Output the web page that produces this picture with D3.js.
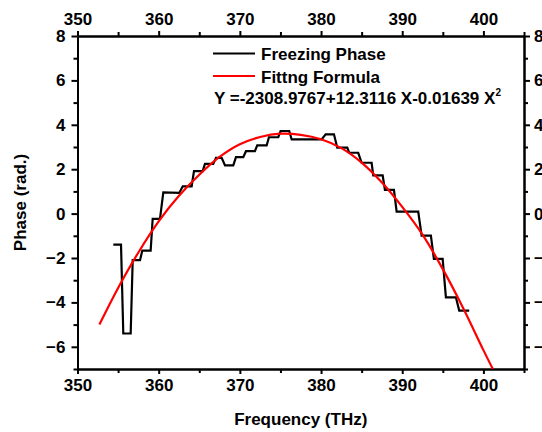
<!DOCTYPE html>
<html>
<head>
<meta charset="utf-8">
<script src="https://cdn.jsdelivr.net/npm/d3@7"></script>
<style>
  body { margin: 0; background: #fff; }
  svg text { font-family: Arial, "Liberation Sans", sans-serif; font-weight: bold; }
</style>
</head>
<body>
<div></div>
<script>
// dimensions
const WIDTH = 542;
const HEIGHT = 432;
const LEFT = 77.5, RIGHT = 524, TOP = 36, BOTTOM = 369;

// freezing phase (step line)
const freqX = [354.41, 355.36, 355.64, 356.55, 356.80, 357.70, 357.98, 359.01, 359.26, 360.16,
  360.57, 362.54, 362.96, 364.06, 364.35, 365.42, 365.70, 366.72, 367.06, 367.76,
  368.17, 369.19, 369.52, 370.42, 370.75, 371.85, 372.14, 373.30, 373.58, 374.73,
  375.02, 376.08, 376.38, 380.07, 380.57, 381.59, 382.00, 383.23, 383.47, 384.58,
  385.00, 386.23, 386.43, 387.59, 387.87, 388.98, 389.31, 391.97, 392.39, 393.53,
  393.90, 394.98, 395.38, 396.61, 397.02, 398.25];
const phaseY = [-1.4, -1.4, -5.4, -5.4, -2.1, -2.1, -1.67, -1.67, -0.24, -0.24,
  0.96, 0.93, 1.23, 1.23, 1.91, 1.91, 2.24, 2.24, 2.51, 2.51,
  2.17, 2.17, 2.54, 2.54, 2.81, 2.81, 3.07, 3.07, 3.44, 3.44,
  3.72, 3.72, 3.34, 3.34, 3.57, 3.57, 2.97, 2.97, 2.74, 2.74,
  2.29, 2.29, 1.72, 1.72, 1.07, 1.07, 0.09, 0.09, -0.99, -0.99,
  -2.04, -2.04, -3.77, -3.77, -4.37, -4.37];

// fitted curve
const fitX = [352.7, 355, 357.5, 360, 362.5, 365, 367.5, 370, 372.5, 375, 377.5,
  380, 382.5, 385, 387.5, 390, 392.5, 395, 397.5, 400, 401.3];
const fitY = [-5.0, -3.35, -1.75, -0.35, 0.8, 1.75, 2.55, 3.12, 3.45, 3.6, 3.55,
  3.35, 2.95, 2.3, 1.4, 0.3, -0.95, -2.5, -4.25, -6.15, -7.1];

const xMajor = [350, 360, 370, 380, 390, 400];
const xMinor = [355, 365, 375, 385, 395, 405];
const yMajor = [-6, -4, -2, 0, 2, 4, 6, 8];
const yMinor = [-7, -5, -3, -1, 1, 3, 5, 7];

const svg = d3.select("div").append("svg")
  .attr("width", WIDTH)
  .attr("height", HEIGHT);

const x = d3.scaleLinear().domain([350, 405]).range([LEFT, RIGHT]);
const y = d3.scaleLinear().domain([-7, 8]).range([BOTTOM, TOP]);

function styleAxis(g) {
  g.select(".domain").attr("stroke", "#000").attr("stroke-width", 2);
  g.selectAll(".tick line").attr("stroke", "#000").attr("stroke-width", 2);
  g.selectAll(".tick text").attr("font-size", 17).attr("fill", "#000");
}

// bottom
svg.append("g").attr("transform", `translate(0,${BOTTOM})`)
  .call(d3.axisBottom(x).tickValues(xMinor).tickSize(4).tickFormat("").tickSizeOuter(0))
  .call(styleAxis);
svg.append("g").attr("transform", `translate(0,${BOTTOM})`)
  .call(d3.axisBottom(x).tickValues(xMajor).tickSize(5).tickPadding(5).tickSizeOuter(0))
  .call(styleAxis);
// top
svg.append("g").attr("transform", `translate(0,${TOP})`)
  .call(d3.axisTop(x).tickValues(xMinor).tickSize(4).tickFormat("").tickSizeOuter(0))
  .call(styleAxis);
svg.append("g").attr("transform", `translate(0,${TOP})`)
  .call(d3.axisTop(x).tickValues(xMajor).tickSize(5).tickPadding(6).tickSizeOuter(0))
  .call(styleAxis);
// left
svg.append("g").attr("transform", `translate(${LEFT},0)`)
  .call(d3.axisLeft(y).tickValues(yMinor).tickSize(4).tickFormat("").tickSizeOuter(0))
  .call(styleAxis);
svg.append("g").attr("transform", `translate(${LEFT},0)`)
  .call(d3.axisLeft(y).tickValues(yMajor).tickSize(6).tickPadding(6).tickSizeOuter(0))
  .call(styleAxis);
// right
svg.append("g").attr("transform", `translate(${RIGHT},0)`)
  .call(d3.axisRight(y).tickValues(yMinor).tickSize(4).tickFormat("").tickSizeOuter(0))
  .call(styleAxis);
svg.append("g").attr("transform", `translate(${RIGHT},0)`)
  .call(d3.axisRight(y).tickValues(yMajor).tickSize(6).tickPadding(4).tickSizeOuter(0))
  .call(styleAxis);

// clip
svg.append("clipPath").attr("id", "clip")
  .append("rect").attr("x", LEFT).attr("y", TOP)
  .attr("width", RIGHT - LEFT).attr("height", BOTTOM - TOP);

const plot = svg.append("g").attr("clip-path", "url(#clip)");

const phaseData = freqX.map((d, i) => [d, phaseY[i]]);
const fitData = fitX.map((d, i) => [d, fitY[i]]);

plot.append("path")
  .datum(phaseData)
  .attr("fill", "none")
  .attr("stroke", "#000")
  .attr("stroke-width", 2.2)
  .attr("d", d3.line().x(d => x(d[0])).y(d => y(d[1])));

plot.append("path")
  .datum(fitData)
  .attr("fill", "none")
  .attr("stroke", "#ff0000")
  .attr("stroke-width", 2.2)
  .attr("d", d3.line().curve(d3.curveCatmullRom).x(d => x(d[0])).y(d => y(d[1])));

// legend
const legend = svg.append("g");
legend.append("line").attr("x1", 213).attr("x2", 255).attr("y1", 53.5).attr("y2", 53.5)
  .attr("stroke", "#000").attr("stroke-width", 2);
legend.append("text").attr("x", 261).attr("y", 59.5).attr("font-size", 17).text("Freezing Phase");
legend.append("line").attr("x1", 213).attr("x2", 255).attr("y1", 76).attr("y2", 76)
  .attr("stroke", "#ff0000").attr("stroke-width", 2);
legend.append("text").attr("x", 261).attr("y", 82.5).attr("font-size", 17).text("Fittng Formula");
const formula = legend.append("text").attr("x", 214).attr("y", 104).attr("font-size", 17);
formula.append("tspan").text("Y =-2308.9767+12.3116 X-0.01639 X");
formula.append("tspan").attr("font-size", 10).attr("dy", -8).text("2");

// axis titles
svg.append("text").attr("x", (LEFT + RIGHT) / 2).attr("y", 425)
  .attr("text-anchor", "middle").attr("font-size", 17).text("Frequency (THz)");
svg.append("text")
  .attr("transform", `translate(26,${(TOP + BOTTOM) / 2}) rotate(-90)`)
  .attr("text-anchor", "middle").attr("font-size", 17).text("Phase (rad.)");
</script>
</body>
</html>
